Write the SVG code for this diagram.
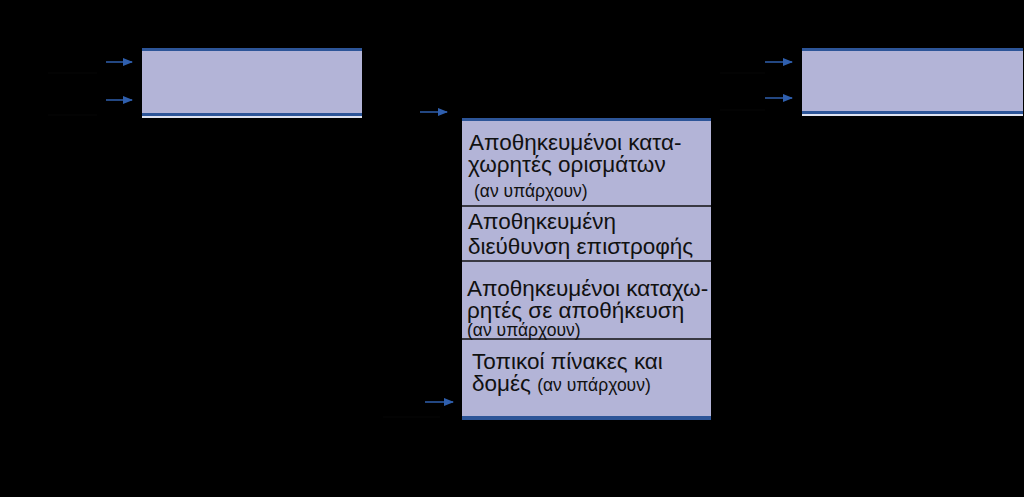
<svg xmlns="http://www.w3.org/2000/svg" width="1024" height="497" viewBox="0 0 1024 497">
<style>
.box{fill:#b3b4d7}
.band{fill:#2d5598}
.edge{fill:#dfe3f0}
.div{stroke:#111;stroke-width:1.5}
.t{font-family:"Liberation Sans",Arial,sans-serif;font-size:22.5px;fill:#111}
.s{font-family:"Liberation Sans",Arial,sans-serif;font-size:17.5px;fill:#111}
.arr{stroke:#2f5fae;stroke-width:1.5;fill:none;marker-end:url(#ah)}
.faint{stroke:#070707;stroke-width:1}
</style>
<defs>
<marker id="ah" markerWidth="10" markerHeight="8" refX="9" refY="4" orient="auto" markerUnits="userSpaceOnUse">
<path d="M0,0 L10,4 L0,8 Z" fill="#2f5fae"/>
</marker>
</defs>
<rect width="1024" height="497" fill="#000"/>
<g id="box-left">
<rect class="box" x="142" y="48" width="220" height="70"/>
<rect class="band" x="142" y="48" width="220" height="3"/>
<rect class="band" x="142" y="113" width="220" height="3"/>
<rect class="edge" x="142" y="116" width="220" height="2"/>
</g>
<g id="box-right">
<rect class="box" x="802" y="48" width="221" height="68"/>
<rect class="band" x="802" y="48" width="221" height="3"/>
<rect class="band" x="802" y="111" width="221" height="3"/>
<rect class="edge" x="802" y="114" width="221" height="2"/>
</g>
<g id="frame">
<rect class="box" x="462" y="118" width="249" height="302"/>
<rect class="band" x="462" y="118" width="249" height="3"/>
<rect class="band" x="462" y="416" width="249" height="4"/>
<line class="div" x1="462" y1="206" x2="711" y2="206"/>
<line class="div" x1="462" y1="261" x2="711" y2="261"/>
<line class="div" x1="462" y1="339" x2="711" y2="339"/>
</g>
<g id="sec1">
<text class="t" x="469" y="150">Αποθηκευμένοι κατα-</text>
<text class="t" x="468" y="172">χωρητές ορισμάτων</text>
<text class="s" x="474" y="197">(αν υπάρχουν)</text>
</g>
<g id="sec2">
<text class="t" x="468" y="229">Αποθηκευμένη</text>
<text class="t" x="468" y="254">διεύθυνση επιστροφής</text>
</g>
<g id="sec3">
<text class="t" x="467" y="296">Αποθηκευμένοι καταχω-</text>
<text class="t" x="467" y="318">ρητές σε αποθήκευση</text>
<text class="s" x="467" y="336">(αν υπάρχουν)</text>
</g>
<g id="sec4">
<text class="t" x="472" y="369">Τοπικοί πίνακες και</text>
<text class="t" x="472" y="391">δομές <tspan class="s">(αν υπάρχουν)</tspan></text>
</g>
<g id="connectors">
<line class="faint" x1="48" y1="73" x2="97" y2="73"/>
<line class="faint" x1="48" y1="115" x2="97" y2="115"/>
<line class="faint" x1="720" y1="73" x2="765" y2="73"/>
<line class="faint" x1="720" y1="110" x2="765" y2="110"/>
<line class="faint" x1="383" y1="417" x2="440" y2="417"/>
<line class="arr" x1="106" y1="62" x2="132" y2="62"/>
<line class="arr" x1="106" y1="100" x2="132" y2="100"/>
<line class="arr" x1="765" y1="62" x2="792" y2="62"/>
<line class="arr" x1="765" y1="98" x2="792" y2="98"/>
<line class="arr" x1="420" y1="112" x2="447" y2="112"/>
<line class="arr" x1="425" y1="402" x2="453" y2="402"/>
</g>
</svg>
